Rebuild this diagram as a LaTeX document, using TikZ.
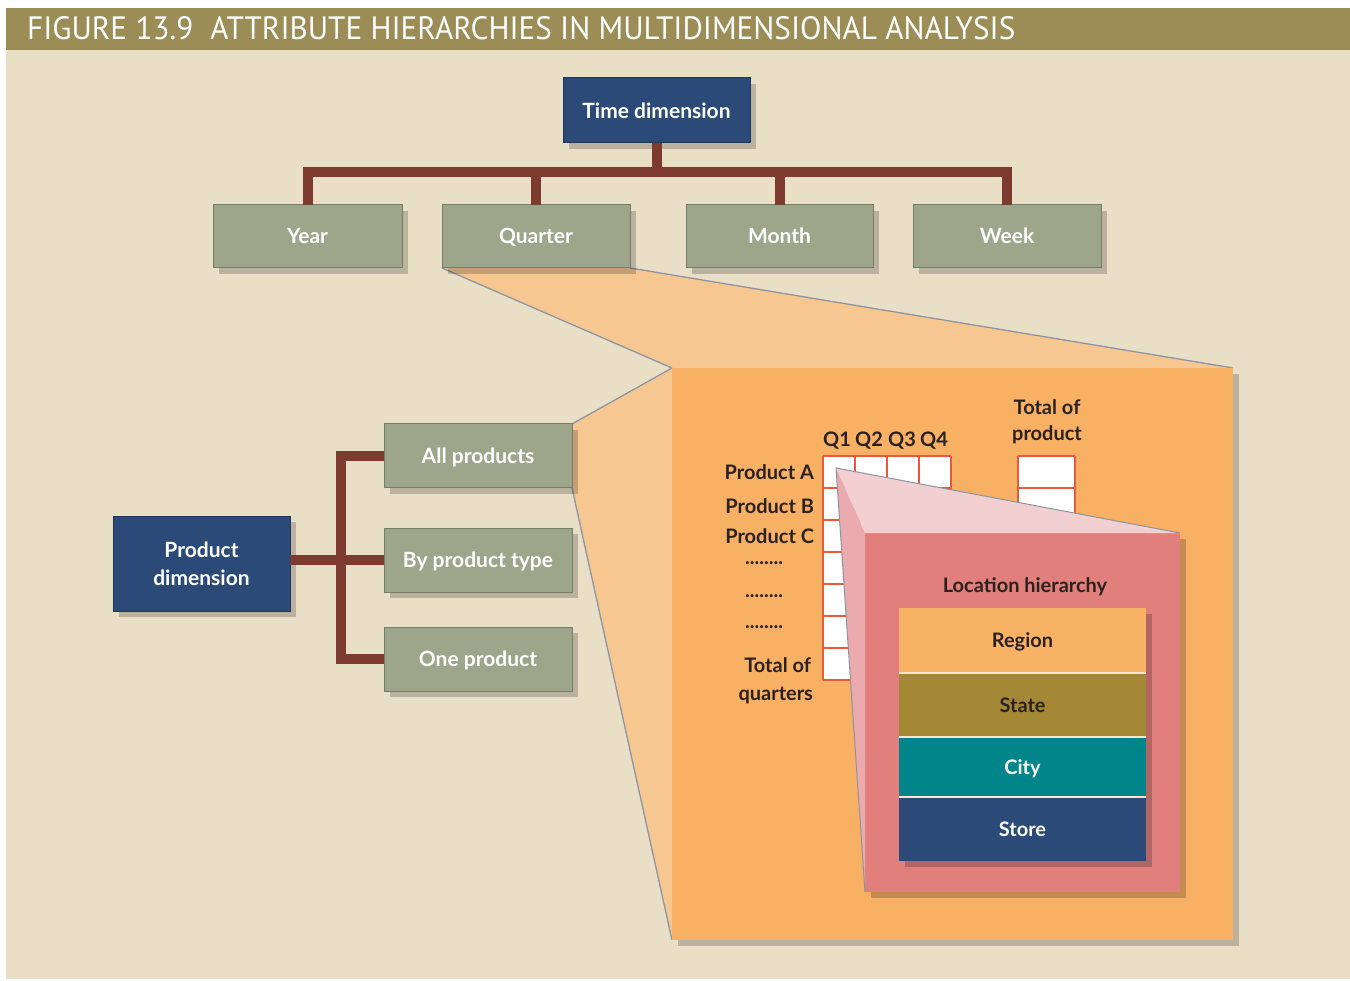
\documentclass[tikz,border=0pt]{standalone}
\usepackage{fontspec}
\setmainfont{Lato}
\newfontfamily\titlefont{PT Sans}
\usetikzlibrary{shadows}
\definecolor{bgbeige}{HTML}{E9DFC7}
\definecolor{titleolive}{HTML}{9B8D55}
\definecolor{dimblue}{HTML}{2B4A78}
\definecolor{attrgreen}{HTML}{9DA68A}
\definecolor{linkbrown}{HTML}{7D3A2F}
\definecolor{conefill}{HTML}{F7C792}
\definecolor{coneedge}{HTML}{8E94A0}
\definecolor{zoomorange}{HTML}{F7B064}
\definecolor{gridred}{HTML}{E85A3C}
\definecolor{pinkbox}{HTML}{E07F7C}
\definecolor{pinklight}{HTML}{F2D0D2}
\definecolor{pinkmid}{HTML}{EAAAAE}
\definecolor{regionor}{HTML}{F8B266}
\definecolor{stateol}{HTML}{A48835}
\definecolor{cityteal}{HTML}{00868A}
\definecolor{labeltext}{HTML}{2B2220}
\begin{document}
\begin{tikzpicture}[x=1pt,y=-1pt,
  base/.style={rectangle, inner sep=0pt, outer sep=0pt, align=center,
    font=\fontsize{21}{28}\selectfont\bfseries, text=white},
  sh/.style={drop shadow={shadow xshift=6pt, shadow yshift=-6pt, opacity=0.2, fill=black}},
  dimbox/.style={base, sh, fill=dimblue, draw=dimblue!75!black, line width=1pt},
  attrbox/.style={base, sh, fill=attrgreen, draw=attrgreen!75!black, line width=1pt,
    text height=15pt, text depth=0pt},
  link/.style={draw=linkbrown, line width=10pt, line join=miter},
  coneedge/.style={draw=coneedge, line width=1.3pt},
  lbl/.style={inner sep=0pt, outer sep=0pt, font=\fontsize{20}{24}\selectfont\bfseries, text=labeltext},
  stack/.style={base, sh, minimum width=247pt, font=\fontsize{20}{24}\selectfont\bfseries,
    text height=14.4pt, text depth=0pt},
  cell/.style={draw=gridred, line width=2.6pt}
]
\useasboundingbox (0,0) rectangle (1350,981);
\fill[white] (0,0) rectangle (1350,981);
\fill[bgbeige] (6,50) rectangle (1350,979);
\fill[titleolive] (6,8) rectangle (1350,50);
\node[anchor=base west, inner sep=0pt, text=white] (title) at (27,40)
  {\resizebox{988pt}{23pt}{\titlefont FIGURE 13.9\hspace{0.55em}ATTRIBUTE HIERARCHIES IN MULTIDIMENSIONAL ANALYSIS}};

% zoom box and cones
\node[base, sh, fill=zoomorange, minimum width=561pt, minimum height=572pt] (zoombox) at (952.5,654) {};
\coordinate (qsw) at (442,268);
\coordinate (qse) at (630,268);
\coordinate (ane) at (572,424);
\coordinate (ase) at (572,488);
\fill[conefill] (qsw) -- (qse) -- (zoombox.north east) -- (zoombox.north west) -- cycle;
\fill[conefill] (ane) -- (zoombox.north west) -- (zoombox.south west) -- (ase) -- cycle;
\draw[coneedge] (qsw) -- (zoombox.north west);
\draw[coneedge] (qse) -- (zoombox.north east);
\draw[coneedge] (ane) -- (zoombox.north west);
\draw[coneedge] (ase) -- (zoombox.south west);
\node[base, fill=zoomorange, minimum width=561pt, minimum height=572pt] at (zoombox.center) {};

% time dimension
\node[dimbox, minimum width=187pt, minimum height=65pt] (time) at (656.5,110.5) {Time dimension};
\node[attrbox, minimum width=189pt, minimum height=63pt] (year) at (307.5,236.5) {Year};
\node[attrbox, minimum width=188pt, minimum height=63pt] (quarter) at (536,236.5) {Quarter};
\node[attrbox, minimum width=187pt, minimum height=63pt] (month) at (779.5,236.5) {Month};
\node[attrbox, minimum width=188pt, minimum height=63pt] (week) at (1007,236.5) {Week};
\coordinate (bus) at (0,172);
\draw[link] (time.south) -- (time.south |- bus);
\draw[link] (year.north) -- (year.north |- bus) -- (week.north |- bus) -- (week.north);
\draw[link] (quarter.north) -- (quarter.north |- bus);
\draw[link] (month.north) -- (month.north |- bus);

% product dimension
\node[dimbox, minimum width=177pt, minimum height=95pt] (proddim) at (201.5,563.5) {Product\\dimension};
\node[attrbox, minimum width=188pt, minimum height=64pt] (allprod) at (478,456) {All products};
\node[attrbox, minimum width=188pt, minimum height=64pt] (bytype) at (478,560) {By product type};
\node[attrbox, minimum width=188pt, minimum height=64pt] (oneprod) at (478,659) {One product};
\coordinate (pbus) at (341,0);
\draw[link] (allprod.west) -- (allprod.west -| pbus) -- (oneprod.west -| pbus) -- (oneprod.west);
\draw[link] (proddim.east |- bytype.west) -- (bytype.west);

% grid
\fill[white] (823,456) rectangle (951,680);
\fill[white] (1018,456) rectangle (1075,680);
\foreach \i in {0,...,4} { \draw[cell] (823+32*\i,456) -- (823+32*\i,680); }
\foreach \j in {0,...,7} { \draw[cell] (823,456+32*\j) -- (951,456+32*\j);
                           \draw[cell] (1018,456+32*\j) -- (1075,456+32*\j); }
\draw[cell] (1018,456) -- (1018,680);
\draw[cell] (1075,456) -- (1075,680);

\node[lbl, anchor=base] (q1) at (837,447) {Q1};
\node[lbl, anchor=base] (q2) at (869,447) {Q2};
\node[lbl, anchor=base] (q3) at (902,447) {Q3};
\node[lbl, anchor=base] (q4) at (934,447) {Q4};
\node[lbl, anchor=base] (tp1) at (1047,415) {Total of};
\node[lbl, anchor=base] (tp2) at (1047,441) {product};
\node[lbl, anchor=base east] (pa) at (814,480) {Product A};
\node[lbl, anchor=base east] (pb) at (814,513) {Product B};
\node[lbl, anchor=base east] (pc) at (814,543) {Product C};
\node[lbl, anchor=base] (d1) at (764,564) {........};
\node[lbl, anchor=base] (d2) at (764,597) {........};
\node[lbl, anchor=base] (d3) at (764,628) {........};
\node[lbl, anchor=base east] (tq1) at (811,672) {Total of};
\node[lbl, anchor=base east] (tq2) at (813,700) {quarters};

% location hierarchy
\coordinate (apex) at (836,468);
\node[base, sh, fill=pinkbox, minimum width=315pt, minimum height=359pt] (pinkbox) at (1022.5,712.5) {};
\fill[pinklight] (apex) -- (pinkbox.north east) -- (pinkbox.north west) -- cycle;
\fill[pinkmid] (apex) -- (pinkbox.north west) -- (pinkbox.south west) -- cycle;
\draw[coneedge, line width=1pt] (pinkbox.north east) -- (apex) -- (pinkbox.south west);
\node[lbl, anchor=base] (lochier) at (1025,592) {Location hierarchy};
\node[stack, fill=regionor, minimum height=65pt, text=labeltext] (region) at (1022.5,640.5) {Region};
\node[stack, fill=stateol, minimum height=64pt, text=labeltext] (state) at (1022.5,705) {State};
\node[stack, fill=cityteal, minimum height=60pt] (city) at (1022.5,767) {City};
\node[stack, fill=dimblue, minimum height=64pt] (store) at (1022.5,829) {Store};
\draw[white!80!orange, line width=1.5pt] (region.south west) -- (region.south east);
\draw[white!80!orange, line width=1.5pt] (state.south west) -- (state.south east);
\draw[white!80!orange, line width=1.5pt] (city.south west) -- (city.south east);
\end{tikzpicture}
\end{document}
